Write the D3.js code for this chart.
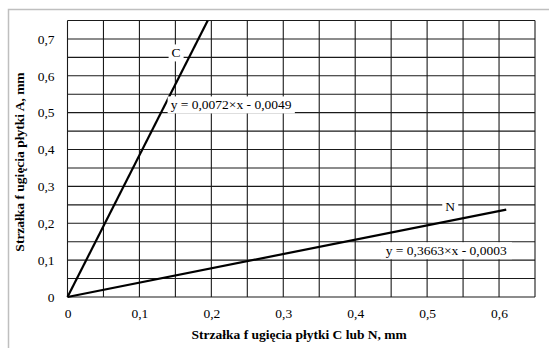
<!DOCTYPE html>
<html>
<head>
<meta charset="utf-8">
<script src="https://cdn.jsdelivr.net/npm/d3@7"></script>
<style>
  body { margin: 0; background: #fff; }
  svg text { font-family: "Liberation Serif", "DejaVu Serif", serif !important; fill: #000; }
</style>
</head>
<body>
<script>
// data
var seriesC = [[0, 0], [0.195, 0.75]];
var seriesN = [[0, 0], [0.61, 0.237]];
var xTicks = [0, 0.1, 0.2, 0.3, 0.4, 0.5, 0.6];
var yTicks = [0, 0.1, 0.2, 0.3, 0.4, 0.5, 0.6, 0.7];
var labelC = "C";
var labelN = "N";
var eqC = "y = 0,0072×x - 0,0049";
var eqN = "y = 0,3663×x - 0,0003";
var xTitle = "Strzałka f ugięcia płytki C lub N, mm";
var yTitle = "Strzałka f ugięcia płytki A, mm";

var width = 549;
var height = 348;
var margin = {top: 20.5, right: 14, bottom: 51, left: 67.5};
var fontSize = "13.5px";

var svg = d3.select("body").append("svg")
  .attr("width", width)
  .attr("height", height);

// chart frame
svg.append("rect")
  .attr("x", 8.5).attr("y", 9.5)
  .attr("width", 560).attr("height", 360)
  .attr("fill", "none")
  .attr("stroke", "#bfbfbf")
  .attr("stroke-width", 1.5);

var x = d3.scaleLinear().domain([0, 0.65]).range([margin.left, width - margin.right]);
var y = d3.scaleLinear().domain([0, 0.75]).range([height - margin.bottom, margin.top]);

var fmt = function(d) { return d === 0 ? "0" : d3.format(".1f")(d).replace(".", ","); };

var g = svg.append("g");

// grid
g.selectAll(".vgrid").data(d3.range(0, 0.651, 0.05))
  .enter().append("line")
  .attr("x1", function(d) { return x(d); })
  .attr("x2", function(d) { return x(d); })
  .attr("y1", y(0)).attr("y2", y(0.75))
  .attr("stroke", "#1a1a1a").attr("stroke-width", 1.1);

g.selectAll(".hgrid").data(d3.range(0, 0.751, 0.05))
  .enter().append("line")
  .attr("y1", function(d) { return y(d); })
  .attr("y2", function(d) { return y(d); })
  .attr("x1", x(0)).attr("x2", x(0.65))
  .attr("stroke", "#1a1a1a").attr("stroke-width", 1.1);

// axes
var xAxis = svg.append("g")
  .attr("transform", "translate(0," + (y(0) + 8) + ")")
  .call(d3.axisBottom(x).tickValues(xTicks).tickFormat(fmt).tickSize(0));
var yAxis = svg.append("g")
  .attr("transform", "translate(" + (x(0) - 10) + ",0)")
  .call(d3.axisLeft(y).tickValues(yTicks).tickFormat(fmt).tickSize(0));
[xAxis, yAxis].forEach(function(a) {
  a.attr("font-family", null).attr("font-size", null);
  a.select(".domain").remove();
  a.selectAll("text")
    .style("font-size", fontSize)
    .attr("fill", "#000");
});

// lines
var line = d3.line()
  .x(function(d) { return x(d[0]); })
  .y(function(d) { return y(d[1]); });

[seriesC, seriesN].forEach(function(s) {
  svg.append("path")
    .datum(s)
    .attr("d", line)
    .attr("fill", "none")
    .attr("stroke", "#000")
    .attr("stroke-width", 2.2);
});

// labels with white boxes
function boxLabel(txt, dx, dy, pad) {
  var t = svg.append("text")
    .attr("x", x(dx)).attr("y", y(dy))
    .attr("text-anchor", "middle")
    .attr("dominant-baseline", "central")
    .style("font-size", fontSize)
    .text(txt);
  var b = t.node().getBBox();
  svg.insert("rect", function() { return t.node(); })
    .attr("x", b.x - pad).attr("y", b.y - 1)
    .attr("width", b.width + 2 * pad).attr("height", b.height + 2)
    .attr("fill", "#fff");
}
boxLabel(labelC, 0.151, 0.662, 3);
boxLabel(eqC, 0.2275, 0.521, 3);
boxLabel(labelN, 0.532, 0.245, 3);
boxLabel(eqN, 0.5265, 0.1255, 5);

// axis titles
svg.append("text")
  .attr("x", (x(0) + x(0.65)) / 2 - 2)
  .attr("y", 339)
  .attr("text-anchor", "middle")
  .style("font-size", fontSize)
  .style("font-weight", "bold")
  .text(xTitle);

svg.append("text")
  .attr("transform", "translate(24," + 162 + ") rotate(-90)")
  .attr("text-anchor", "middle")
  .style("font-size", fontSize)
  .style("font-weight", "bold")
  .text(yTitle);
</script>
</body>
</html>
